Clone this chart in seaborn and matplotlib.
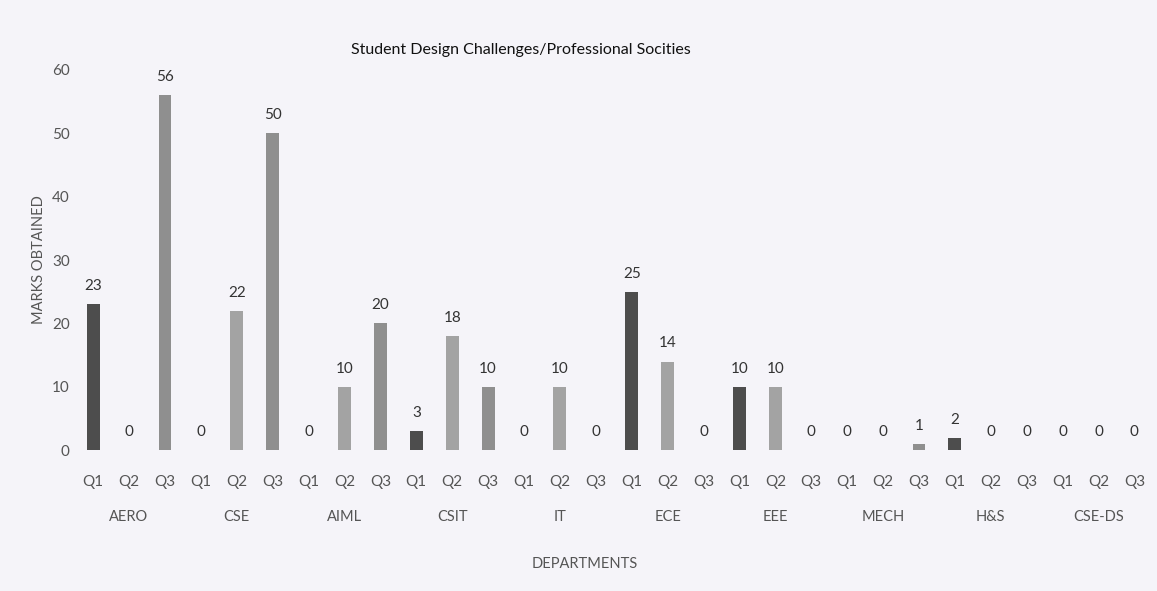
import pandas as pd
import matplotlib.pyplot as plt
import seaborn as sns

departments = ["AERO", "CSE", "AIML", "CSIT", "IT", "ECE", "EEE", "MECH", "H&S", "CSE-DS"]
quarters = ["Q1", "Q2", "Q3"]
q1 = [23, 0, 0, 3, 0, 25, 10, 0, 2, 0]
q2 = [0, 22, 10, 18, 10, 14, 10, 0, 0, 0]
q3 = [56, 50, 20, 10, 0, 0, 0, 1, 0, 0]
quarter_colors = {"Q1": "#4d4d4d", "Q2": "#a3a3a3", "Q3": "#8f8f8f"}

# one row per bar, department-major order
rows = []
for i, dept in enumerate(departments):
    for q, vals in zip(quarters, [q1, q2, q3]):
        rows.append({"slot": f"{dept} {q}", "dept": dept, "quarter": q, "marks": vals[i]})
df = pd.DataFrame(rows)

bg = "#f5f4f9"
sns.set_theme(style="white")
plt.rcParams["font.family"] = ["Lato", "DejaVu Sans"]

fig = plt.figure(figsize=(11.57, 5.91), dpi=100, facecolor=bg)
ax = fig.add_axes([0.065, 0.238, 0.931, 0.644], facecolor=bg)

palette = [quarter_colors[q] for q in df["quarter"]]
sns.barplot(data=df, x="slot", y="marks", hue="slot", palette=palette,
            order=df["slot"], hue_order=df["slot"], width=0.36,
            legend=False, ax=ax, saturation=1, linewidth=0)

for c in ax.containers:
    ax.bar_label(c, padding=8, fontsize=11, color="#333333")

ax.set_ylim(0, 60)
ax.set_yticks(range(0, 61, 10))
ax.tick_params(axis="y", labelsize=11, labelcolor="#555555", pad=4, length=0)
ax.set_xticks(range(len(df)))
ax.set_xticklabels(df["quarter"])
ax.tick_params(axis="x", labelsize=11, labelcolor="#555555", pad=18, length=0)
sns.despine(ax=ax, left=True, bottom=True)
ax.set_xlabel("")
ax.set_ylabel("MARKS OBTAINED", fontsize=10.5, color="#555555", labelpad=4)

trans = ax.get_xaxis_transform()
for i, dept in enumerate(departments):
    ax.text(i * 3 + 1, -0.175, dept, transform=trans, ha="center", va="center",
            fontsize=10.5, color="#555555")

fig.text(0.45, 0.915, "Student Design Challenges/Professional Socities",
         ha="center", va="center", fontsize=11.5, color="#111111")
fig.text(0.505, 0.045, "DEPARTMENTS", ha="center", va="center",
         fontsize=10.5, color="#555555")

fig.savefig("out.png", dpi=100, facecolor=bg)
